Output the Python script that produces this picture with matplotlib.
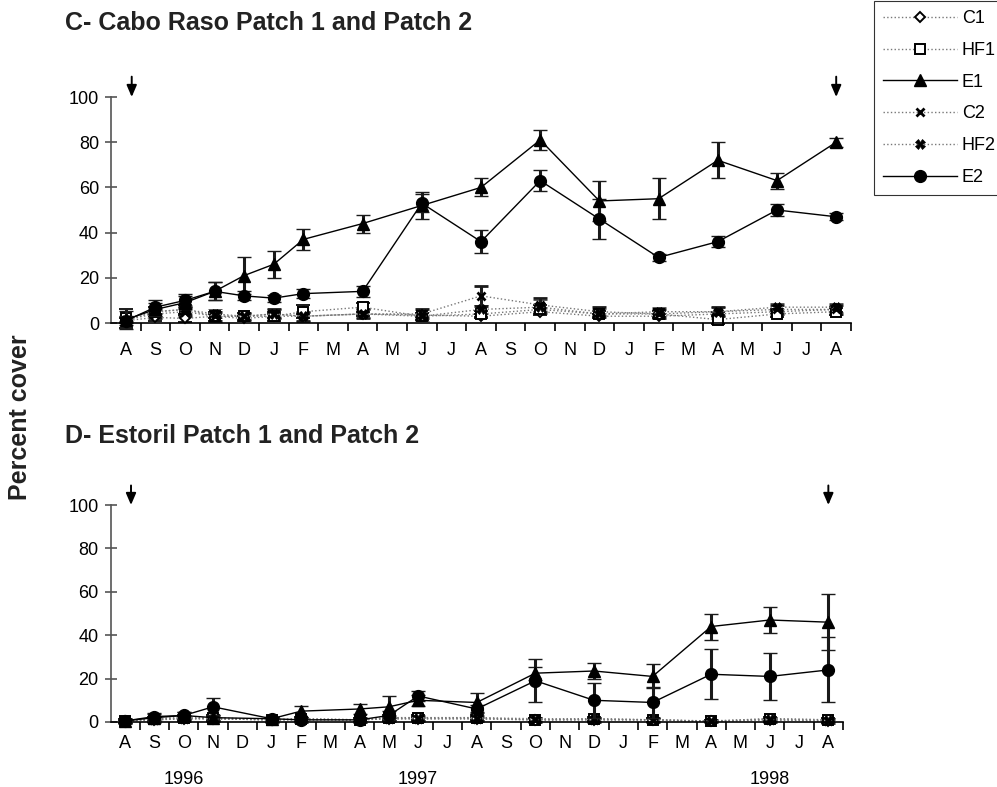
import numpy as np
import matplotlib
matplotlib.use("Agg")
import matplotlib.pyplot as plt
from matplotlib.lines import Line2D

plt.rcParams["font.family"] = ["Liberation Sans", "DejaVu Sans"]

# ── month axis (Aug 1996 .. Aug 1998) ────────────────────────────────────────
month_labels = ["A", "S", "O", "N", "D", "J", "F", "M", "A", "M", "J", "J",
                "A", "S", "O", "N", "D", "J", "F", "M", "A", "M", "J", "J", "A"]
year_labels = ["1996", "1997", "1998"]
year_pos = [2, 10, 22]

# ── C- Cabo Raso: sampling months (index into month_labels) ──────────────────
c_months = [0, 1, 2, 3, 4, 5, 6, 8, 10, 12, 14, 16, 18, 20, 22, 24]
c_C1  = [1, 2.5, 2, 3, 2, 3, 3, 4, 3.5, 3, 5, 3, 3, 4, 5, 6]
c_HF1 = [2, 5, 6, 3, 3, 3, 5, 7, 3, 4, 6, 4, 4, 1.5, 4, 5]
c_E1  = [1.5, 6, 9, 14, 21, 26, 37, 44, 52, 60, 81, 54, 55, 72, 63, 80]
c_C2  = [1.5, 4, 5, 3, 3, 4, 3, 4, 4, 12, 8, 5, 4, 5, 6, 6]
c_HF2 = [1, 5, 6, 4, 3, 4, 3, 4, 3, 6, 7, 4, 5, 5, 7, 7]
c_E2  = [1, 7, 10, 14, 12, 11, 13, 14, 53, 36, 63, 46, 29, 36, 50, 47]
c_C1_err  = [1, 1.5, 1.5, 1, 1, 1, 1, 1, 1, 1, 1.5, 1, 1, 1, 1, 1]
c_HF1_err = [4, 2, 2, 2, 1.5, 2, 3, 2, 1.5, 1.5, 2, 1.5, 1.5, 2, 1.5, 1.5]
c_E1_err  = [4, 3, 3, 4, 8, 6, 4.5, 4, 6, 4, 4.5, 9, 9, 8, 3.5, 2]
c_C2_err  = [1, 2, 2, 2, 1.5, 2, 2, 2, 2, 4.5, 3, 2, 2, 2, 2, 2]
c_HF2_err = [1, 2, 2, 2, 1.5, 2, 2, 2, 2, 2, 3, 2, 2, 2, 2, 2]
c_E2_err  = [2, 3, 3, 4, 2, 1.5, 2, 2.5, 4, 5, 4.5, 9, 1.5, 2.5, 2.5, 1.5]

# ── D- Estoril ───────────────────────────────────────────────────────────────
d_months = [0, 1, 2, 3, 5, 6, 8, 9, 10, 12, 14, 16, 18, 20, 22, 24]
d_C1  = [0.3, 1, 1.5, 1.5, 1, 1, 1, 1.5, 1.5, 1.5, 1, 1, 1, 0.3, 1, 0.5]
d_HF1 = [0.5, 1.5, 2, 2, 1, 1.5, 1, 2, 2, 2, 1, 1.5, 1, 0.3, 1.5, 1]
d_E1  = [0.5, 2, 3, 2, 1.5, 5, 6, 7, 10, 9, 22.5, 23.5, 21, 44, 47, 46]
d_C2  = [0.5, 1, 1.5, 1.5, 1, 1, 1, 1.5, 1.5, 1.5, 1, 1, 1, 0.3, 1, 0.5]
d_HF2 = [0.5, 1.5, 2, 1.5, 1, 1.5, 1, 2, 2, 2, 1.5, 1.5, 1, 0.5, 1.5, 1]
d_E2  = [0.5, 2.5, 3, 7, 1.5, 1, 1, 3, 12, 6, 19, 10, 9, 22, 21, 24]
d_small_err = [0.8, 1, 1, 1, 0.8, 1, 0.8, 1, 1, 1, 1, 1, 1, 0.5, 1, 0.8]
d_E1_err = [1, 1.5, 1.5, 1, 1, 2.5, 2.5, 5, 2.5, 4.5, 3, 3.5, 5.5, 6, 6, 13]
d_E2_err = [1, 1.5, 1.5, 4, 1, 1, 1, 2, 2.5, 2, 10, 8, 7, 11.5, 11, 15]

series_names = ["C1", "HF1", "E1", "C2", "HF2", "E2"]
styles = {
    "C1":  dict(marker="D", ms=5.5, mfc="white", mec="black", mew=1.4, ls=":", color="#777777"),
    "HF1": dict(marker="s", ms=6.5, mfc="white", mec="black", mew=1.4, ls=":", color="#777777"),
    "E1":  dict(marker="^", ms=8.5, mfc="black", mec="black", ls="-", color="black"),
    "C2":  dict(marker="x", ms=6, mfc="black", mec="black", mew=2, ls=":", color="#777777"),
    "HF2": dict(marker="X", ms=7, mfc="black", mec="black", mew=0.5, ls=":", color="#777777"),
    "E2":  dict(marker="o", ms=8.5, mfc="black", mec="black", ls="-", color="black"),
}

W, H = 997, 787
fig = plt.figure(figsize=(W / 100, H / 100), dpi=100)

XMIN, XMAX = -0.5, 24.5
ax_c = fig.add_axes([111 / W, (H - 323) / H, 25 * 29.6 / W, 226 / H])
ax_d = fig.add_axes([110.5 / W, (H - 722) / H, 25 * 29.3 / W, 217 / H])


def draw_panel(ax, months, data, errs, label_pad):
    for name in series_names:
        st = styles[name]
        ebs = ax.errorbar(months, data[name], yerr=errs[name], color=st["color"], ls=st["ls"],
                          lw=1.0, marker=st["marker"], ms=st["ms"], mfc=st["mfc"], mec=st["mec"],
                          mew=st.get("mew", 1), ecolor="#1a1a1a", elinewidth=2.2, capsize=5,
                          capthick=2.2, zorder=3 if st["ls"] == "-" else 2)
        for art in ebs.lines[:1] + tuple(ebs.lines[1]) + tuple(ebs.lines[2]):
            art.set_clip_on(False)
    ax.set_xlim(XMIN, XMAX)
    ax.set_ylim(0, 100)
    ax.set_yticks([0, 20, 40, 60, 80, 100])
    ax.set_xticks(np.arange(25))
    ax.set_xticklabels(month_labels, fontsize=13)
    ax.set_xticks(np.arange(25) + 0.5, minor=True)
    ax.tick_params(axis="x", which="major", length=0, pad=label_pad)
    ax.tick_params(axis="x", which="minor", length=5.5, width=1.2, direction="out", color="black")
    ax.tick_params(axis="y", length=9, width=1.2, direction="inout", color="#555555",
                   labelsize=13, pad=4)
    ax.spines["top"].set_visible(False)
    ax.spines["right"].set_visible(False)
    ax.spines["left"].set_color("#555555")
    ax.spines["left"].set_linewidth(1.2)
    ax.spines["bottom"].set_linewidth(1.2)
    for xm in (0.2, 24):
        ax.annotate("", xy=(xm, 100), xytext=(xm, 109), xycoords="data",
                    arrowprops=dict(arrowstyle="-|>,head_length=0.7,head_width=0.3",
                                    color="black", lw=1.4, shrinkA=0, shrinkB=0),
                    annotation_clip=False)


draw_panel(ax_c, c_months,
           dict(C1=c_C1, HF1=c_HF1, E1=c_E1, C2=c_C2, HF2=c_HF2, E2=c_E2),
           dict(C1=c_C1_err, HF1=c_HF1_err, E1=c_E1_err, C2=c_C2_err, HF2=c_HF2_err, E2=c_E2_err),
           14)
draw_panel(ax_d, d_months,
           dict(C1=d_C1, HF1=d_HF1, E1=d_E1, C2=d_C2, HF2=d_HF2, E2=d_E2),
           dict(C1=d_small_err, HF1=d_small_err, E1=d_E1_err, C2=d_small_err,
                HF2=d_small_err, E2=d_E2_err),
           9)

fig.text(65 / W, 1 - 23 / H, "C- Cabo Raso Patch 1 and Patch 2", ha="left", va="center",
         fontsize=18, fontweight="bold", color="#222222")
fig.text(65 / W, 1 - 436 / H, "D- Estoril Patch 1 and Patch 2", ha="left", va="center",
         fontsize=18, fontweight="bold", color="#222222")

for pos, lab in zip(year_pos, year_labels):
    ax_d.annotate(lab, xy=(pos, 0), xycoords=("data", "figure pixels"),
                  xytext=(0, H - 780), textcoords="offset pixels",
                  ha="center", va="center", fontsize=13)

fig.text(20 / W, 1 - 417 / H, "Percent cover", rotation=90, ha="center", va="center",
         fontsize=18, fontweight="bold", color="#222222")

handles = []
for name in series_names:
    st = styles[name]
    handles.append(Line2D([], [], color=st["color"], ls=st["ls"], lw=1.0, marker=st["marker"],
                          ms=st["ms"], mfc=st["mfc"], mec=st["mec"], mew=st.get("mew", 1)))
leg = fig.legend(handles, series_names, loc="upper right",
                 bbox_to_anchor=(1.0 + 8 / W, 1 - 1 / H),
                 borderaxespad=0, fontsize=13, frameon=True, fancybox=False,
                 handlelength=4.1, handletextpad=0.3, labelspacing=0.82, borderpad=0.5)
leg.get_frame().set_edgecolor("black")
leg.get_frame().set_linewidth(0.8)

fig.savefig("out.png", dpi=100)
plt.close(fig)
